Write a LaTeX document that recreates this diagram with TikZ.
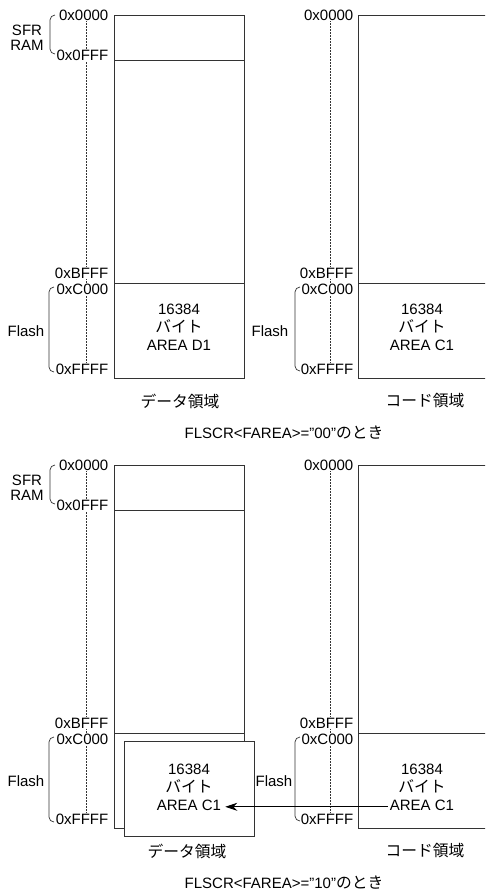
\documentclass[tikz,border=0pt]{standalone}
\usepackage{fontspec}
\setmainfont{Liberation Sans}
\newfontfamily\jp[Scale=1.05]{Noto Sans CJK JP}
\usepackage{tikz}
\usetikzlibrary{arrows.meta,positioning}
\definecolor{memline}{HTML}{333333}
\newcommand{\memBrace}[3]{\draw[brk] (#1+5,#2) to[out=180,in=90] (#1,#2+5) -- (#1,#3-5) to[out=-90,in=180] (#1+5,#3);}

\begin{document}
\begin{tikzpicture}[
x=1pt,y=-1pt,
every node/.style={font=\fontsize{15}{15}\selectfont,inner sep=1pt},
box/.style={line width=0.9pt,color=memline},
dotline/.style={line width=1pt,dash pattern=on 1.5pt off 1.5pt,color=memline},
brk/.style={line width=0.7pt,color=memline},
addr/.style={anchor=east,fill=white,inner sep=0.5pt},
txt/.style={text height=10.5pt,text depth=3pt,inner sep=2pt},
arr/.style={-{Stealth[length=12pt,width=8pt]},line width=0.8pt,color=black,shorten >=2pt}
]
\useasboundingbox (0,0) rectangle (485,892);
\clip (0,0) rectangle (485,892);
\foreach \oy/\tg/\fa/\dx/\cy/\fx in {0/t/00/180/311/270, 450/b/10/187/771/274} {
  % data area
  \draw[dotline] (86,20+\oy) -- (86,366+\oy);
  \draw[box] (114,15+\oy) rectangle (244,378+\oy);
  \draw[box] (114,60+\oy) -- (244,60+\oy);
  \draw[box] (114,283+\oy) -- (244,283+\oy);
  \node[addr] (\tg-d0000) at (109,15+\oy) {0x0000};
  \node[addr] (\tg-d0FFF) at (109,55+\oy) {0x0FFF};
  \node[addr] (\tg-dBFFF) at (109,273+\oy) {0xBFFF};
  \node[addr] (\tg-dC000) at (109,289+\oy) {0xC000};
  \node[addr] (\tg-dFFFF) at (109,369+\oy) {0xFFFF};
  \memBrace{50}{15+\oy}{54+\oy}
  \memBrace{49}{287+\oy}{372+\oy}
  \node[align=center] (\tg-sfr) at (27,38+\oy) {SFR\\RAM};
  \node (\tg-dflash) at (26,331+\oy) {Flash};
  \node (\tg-dcap) at (\dx,401+\oy) {\jp データ領域};
  % code area
  \draw[dotline] (330,20+\oy) -- (330,366+\oy);
  \draw[box] (358,15+\oy) rectangle (487,378+\oy);
  \draw[box] (358,283+\oy) -- (487,283+\oy);
  \node[addr] (\tg-c0000) at (354,15+\oy) {0x0000};
  \node[addr] (\tg-cBFFF) at (354,273+\oy) {0xBFFF};
  \node[addr] (\tg-cC000) at (354,289+\oy) {0xC000};
  \node[addr] (\tg-cFFFF) at (354,369+\oy) {0xFFFF};
  \memBrace{295}{287+\oy}{371+\oy}
  \node (\tg-cflash) at (\fx,331+\oy) {Flash};
  \node[txt] (\tg-cnum) at (422,\cy) {16384};
  \node[txt,below=0pt of \tg-cnum] (\tg-cunit) {\jp バイト};
  \node[txt,below=0pt of \tg-cunit] (\tg-carea) {AREA C1};
  \node (\tg-ccap) at (425,401+\oy) {\jp コード領域};
  \node (\tg-cap) at (284,433+\oy) {FLSCR<FAREA>=”\fa”{\jp のとき}};
}
% top: data flash
\node[txt] (t-dnum) at (179,311) {16384};
\node[txt,below=0pt of t-dnum] (t-dunit) {\jp バイト};
\node[txt,below=0pt of t-dunit] (t-darea) {AREA D1};
% bottom: code flash seen in data area
\draw[box,fill=white] (124,741) rectangle (254,836);
\node[txt] (b-onum) at (189,771) {16384};
\node[txt,below=0pt of b-onum] (b-ounit) {\jp バイト};
\node[txt,below=0pt of b-ounit] (b-oarea) {AREA C1};
\draw[arr] (b-carea) -- (b-oarea);
\end{tikzpicture}
\end{document}
